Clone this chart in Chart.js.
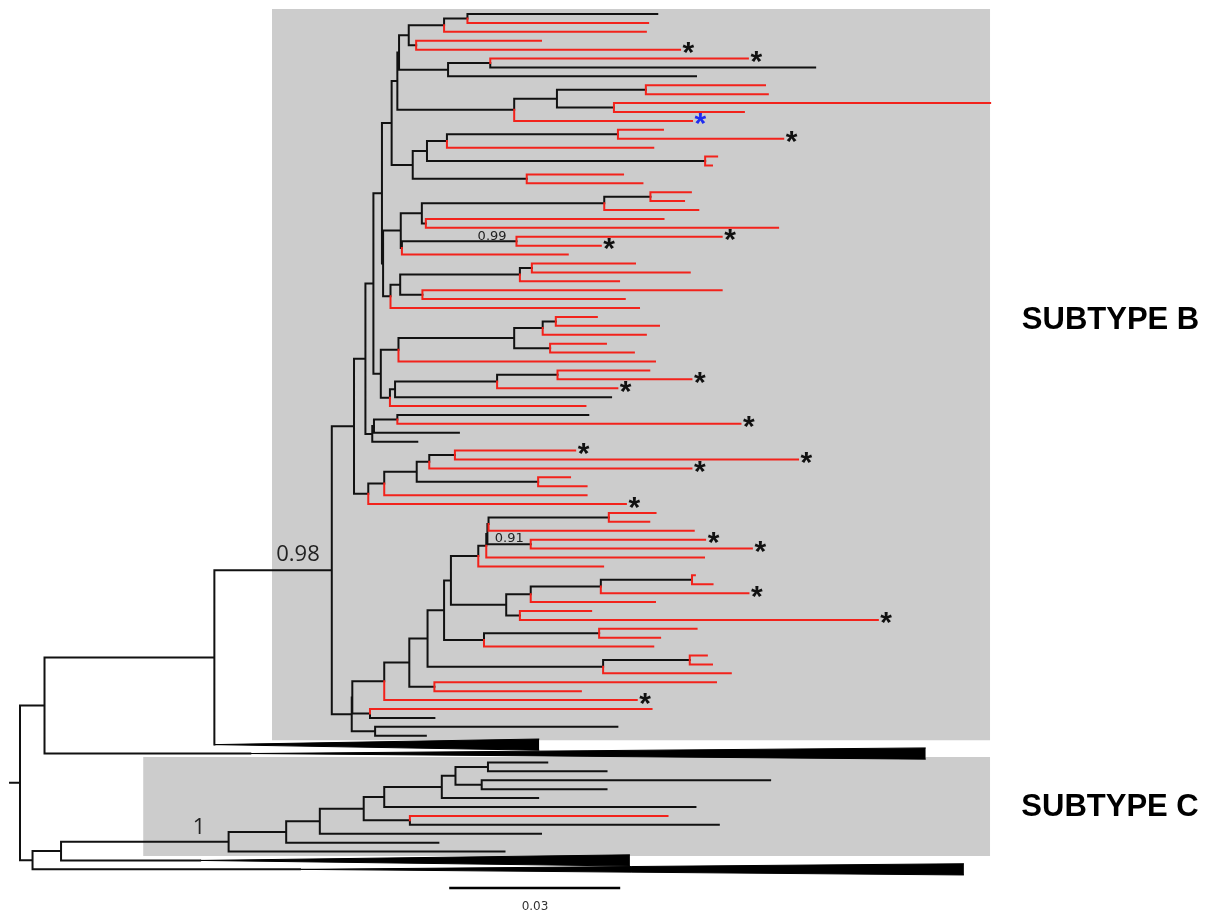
<!DOCTYPE html>
<html>
<head>
<meta charset="utf-8">
<script src="https://cdn.jsdelivr.net/npm/chart.js@4.4.0/dist/chart.umd.min.js"></script>
<style>
  html, body { margin: 0; padding: 0; background: #fff; }
  canvas { display: block; }
</style>
</head>
<body>
<canvas id="tree" width="1220" height="911"></canvas>
<script>
// depth unit: 0.001 substitutions/site, root = 0
// tips: k = black branch, r = red branch, * = black star, # = blue star
// (children)depth = internal node, ^n = collapsed clade n
const cladeL = '((((((k111.8,r110.2)78.5,r109.8)74.4,(r91.4,r115.8*)69.5)68.2,((r127.7*,k139.5)82.5,k118.6)75.1)66.5,(((r130.7,r131.2)109.8,(r170.2,r127.0)104.2)94.2,r117.9#)86.7)66.2,((((r112.8,r133.9*)104.9,r111.1)74.9,(r122.3,r121.4)120.2)71.4,(r105.8,r109.2)88.9)68.9)65.2';
const cladePQ = '(((((r117.7,r116.5)110.6,r119.0)102.5,(r112.9,r133.0)71.2)70.5,((r123.1*,r101.9*)87.1,r96.1)67.0)66.8,((((r107.9,r117.5)89.8,r105.1)87.7,(r123.1,r106.1)70.6)66.7,r108.6)65.0)63.7';
const clade381 = '(((((r101.2,r112.1)94.0,r109.8)91.7,(r102.8,r107.7)93.0)86.7,r111.4)66.4,((((r110.4,r117.8*)94.3,r104.8*)83.7,k103.7)65.8,r99.2)64.9)63.3';
const cladeT = '(((k99.7,r126.4*)66.2,k77.0)62.1,k69.7)61.8';
const cladeV = '(((((r97.4*,r136.5*)76.3,r117.8*)71.8,(r96.5,r99.4)90.9)69.6,r99.4)63.9,r106.3*)61.1';
const zTop = '(((((r111.5,r110.4)103.3,r118.2)82.2,(r120.2*,r128.4*)89.6)82.0,r120.0)81.8,r102.3)80.4';
const zMid = '((((r118.4,r121.5)117.9,r127.8*)101.9,r111.4)89.6,(r100.2,r150.5*)87.7)85.3';
const cladeZ = `(((((((${zTop},${zMid})75.6,((r118.7,r112.3)101.6,r111.1)81.4)74.4,((r120.5,r121.4)117.5,r124.7)102.3)71.5,(r122.1,r98.4)72.7)68.3,r108.2*)63.9,(r110.8,k72.7)61.4)58.3,(k104.8,k71.2)62.3)58.2`;
const cladeC = '((((((((k92.5,k102.9)82.1,(k131.6,k102.9)81.0)76.4,k90.9)74.0,k118.5)63.9,(r113.6,k122.6)68.4)60.3,k91.4)52.6,k73.4)46.7,k85.0)36.6';
const subtypeB = `(((((${cladeL},${cladePQ})63.5,${clade381})62.0,${cladeT})60.6,${cladeV})58.6,${cladeZ})54.7`;
const backbone = `(((${subtypeB},^0)34.1,^1)4.3,((${cladeC},^2)7.2,^3)2.2)0`;
const rootStub = -1.75;

// collapsed clades (triangles)
const collapsedApex = [34.1, 40.4, 31.6, 49.1];
const collapsedEnd = [91.1, 158.9, 107.0, 165.6];

// posterior support labels
const supportText = ['0.98', '1', '0.99', '0.91'];
const supportX = [48.8, 31.1, 82.8, 85.8];
const supportRow = [60.5, 91.1, 24.9, 58.7];

// shaded subtypes
const groupText = ['SUBTYPE B', 'SUBTYPE C'];
const groupRow = [34.1, 88.8];
const groupX = 191.2;
const shadeFrom = [44.2, 21.6];
const shadeTo = [170.2, 170.2];
const shadeRowFrom = [-0.55, 83.4];
const shadeRowTo = [81.5, 94.5];

// scale bar (0.03)
const scaleBar = [75.3, 105.3];
const scaleRow = 98.1;
const scaleText = '0.03';
const scaleTextRow = 100.0;

// 解析树字符串
function parseTree(str) {
    const s = str.replace(/\s+/g, '');
    let i = 0;
    function num() {
        const m = /^-?\d+(\.\d+)?/.exec(s.slice(i));
        if (!m) throw new Error('number expected at ' + i + ': ' + s.slice(i, i + 20));
        i += m[0].length;
        return parseFloat(m[0]);
    }
    function node() {
        if (s[i] === '(') {
            i++;
            const kids = [node()];
            while (s[i] === ',') { i++; kids.push(node()); }
            if (s[i] !== ')') throw new Error('")" expected at ' + i + ': ' + s.slice(i, i + 20));
            i++;
            return { x: num(), kids };
        }
        const code = s[i++];
        if (code === '^') {
            const k = num();
            return { x: collapsedEnd[k], apex: collapsedApex[k], collapsed: true };
        }
        const tip = { x: num(), red: code === 'r', star: null };
        if (s[i] === '*') { tip.star = 'black'; i++; }
        else if (s[i] === '#') { tip.star = 'blue'; i++; }
        return tip;
    }
    const root = node();
    if (i !== s.length) throw new Error('trailing text at ' + i);
    return root;
}

const tree = parseTree(backbone);

// 叶节点按顺序排行, 内部节点取首尾子节点中点
let nextRow = 0;
function layout(n) {
    if (n.kids) {
        n.kids.forEach(layout);
        n.y = (n.kids[0].y + n.kids[n.kids.length - 1].y) / 2;
    } else {
        n.y = nextRow++;
    }
}
layout(tree);

const blackPts = [], redPts = [], tips = [], collapsed = [];
function addElbow(pts, x0, y0, y1, x1) {
    pts.push({ x: x0, y: y0 }, { x: x0, y: y1 }, { x: x1, y: y1 }, { x: x1, y: null });
}
function walk(n) {
    if (!n.kids) return;
    n.kids.forEach(c => {
        if (c.collapsed) {
            addElbow(blackPts, n.x, n.y, c.y, c.apex);
            collapsed.push(c);
        } else {
            addElbow(c.red ? redPts : blackPts, n.x, n.y, c.y, c.x);
            if (!c.kids) tips.push(c);
        }
        walk(c);
    });
}
blackPts.push({ x: rootStub, y: tree.y }, { x: tree.x, y: tree.y }, { x: tree.x, y: null });
walk(tree);

const datasets = [];
shadeFrom.forEach((x0, k) => {
    datasets.push({
        data: [{ x: x0, y: shadeRowFrom[k] }, { x: shadeTo[k], y: shadeRowFrom[k] }],
        showLine: true, borderColor: 'rgba(0,0,0,0)', borderWidth: 1, fill: false, order: 10
    });
    datasets.push({
        data: [{ x: x0, y: shadeRowTo[k] }, { x: shadeTo[k], y: shadeRowTo[k] }],
        showLine: true, borderColor: 'rgba(0,0,0,0)', borderWidth: 1,
        fill: '-1', backgroundColor: '#cccccc', order: 10
    });
});
collapsed.forEach(c => {
    const h = 0.63;
    datasets.push({
        data: [{ x: c.apex, y: c.y }, { x: c.x, y: c.y - h }],
        showLine: true, borderColor: '#000', borderWidth: 1, fill: false, order: 3
    });
    datasets.push({
        data: [{ x: c.apex, y: c.y }, { x: c.x, y: c.y + h }],
        showLine: true, borderColor: '#000', borderWidth: 1,
        fill: '-1', backgroundColor: '#000', order: 3
    });
});
datasets.push({
    data: blackPts, showLine: true, spanGaps: false,
    borderColor: '#111', borderWidth: 2, borderCapStyle: 'square', order: 2
});
datasets.push({
    data: redPts, showLine: true, spanGaps: false,
    borderColor: '#f2221b', borderWidth: 2, borderCapStyle: 'square', order: 1
});
datasets.push({
    data: [{ x: scaleBar[0], y: scaleRow }, { x: scaleBar[1], y: scaleRow }],
    showLine: true, borderColor: '#000', borderWidth: 2.5, order: 1
});

function drawCentered(ctx, text, px, py) {
    const m = ctx.measureText(text);
    const w = m.actualBoundingBoxLeft + m.actualBoundingBoxRight;
    const bx = px - w / 2 + m.actualBoundingBoxLeft;
    const by = py + (m.actualBoundingBoxAscent - m.actualBoundingBoxDescent) / 2;
    ctx.fillText(text, bx, by);
}

const textPlugin = {
    id: 'treeText',
    afterDatasetsDraw(chart) {
        const { ctx, scales: { x, y } } = chart;
        ctx.save();
        ctx.textAlign = 'left';
        ctx.textBaseline = 'alphabetic';

        // 星号
        ctx.font = 'bold 30px "Liberation Sans"';
        tips.filter(t => t.star).forEach(t => {
            ctx.fillStyle = t.star === 'blue' ? '#1f2cf0' : '#111';
            const m = ctx.measureText('*');
            const px = x.getPixelForValue(t.x) + 2.5 + m.actualBoundingBoxLeft;
            const py = y.getPixelForValue(t.y) - 1.5 + (m.actualBoundingBoxAscent - m.actualBoundingBoxDescent) / 2;
            ctx.fillText('*', px, py);
        });

        // 支持率
        supportText.forEach((txt, k) => {
            ctx.fillStyle = '#222';
            ctx.font = k < 2 ? '22px "Open Sans"' : '13px "DejaVu Sans"';
            drawCentered(ctx, txt, x.getPixelForValue(supportX[k]), y.getPixelForValue(supportRow[k]));
        });

        // 亚型标签
        ctx.fillStyle = '#000';
        ctx.font = 'bold 31px "Liberation Sans"';
        groupText.forEach((txt, k) => {
            drawCentered(ctx, txt, x.getPixelForValue(groupX), y.getPixelForValue(groupRow[k]));
        });

        // 比例尺标签
        ctx.fillStyle = '#333';
        ctx.font = '12px "DejaVu Sans"';
        drawCentered(ctx, scaleText, x.getPixelForValue((scaleBar[0] + scaleBar[1]) / 2), y.getPixelForValue(scaleTextRow));
        ctx.restore();
    }
};

new Chart(document.getElementById('tree'), {
    type: 'scatter',
    data: { datasets },
    options: {
        responsive: false,
        animation: false,
        events: [],
        layout: { padding: 0 },
        plugins: { legend: { display: false }, tooltip: { enabled: false } },
        elements: { point: { radius: 0 }, line: { tension: 0 } },
        scales: {
            x: { type: 'linear', display: false, min: -20 / 5.7, max: 1200 / 5.7 },
            y: { type: 'linear', display: false, reverse: true, min: -14 / 8.91, max: 897 / 8.91 }
        }
    },
    plugins: [textPlugin]
});
</script>
</body>
</html>
